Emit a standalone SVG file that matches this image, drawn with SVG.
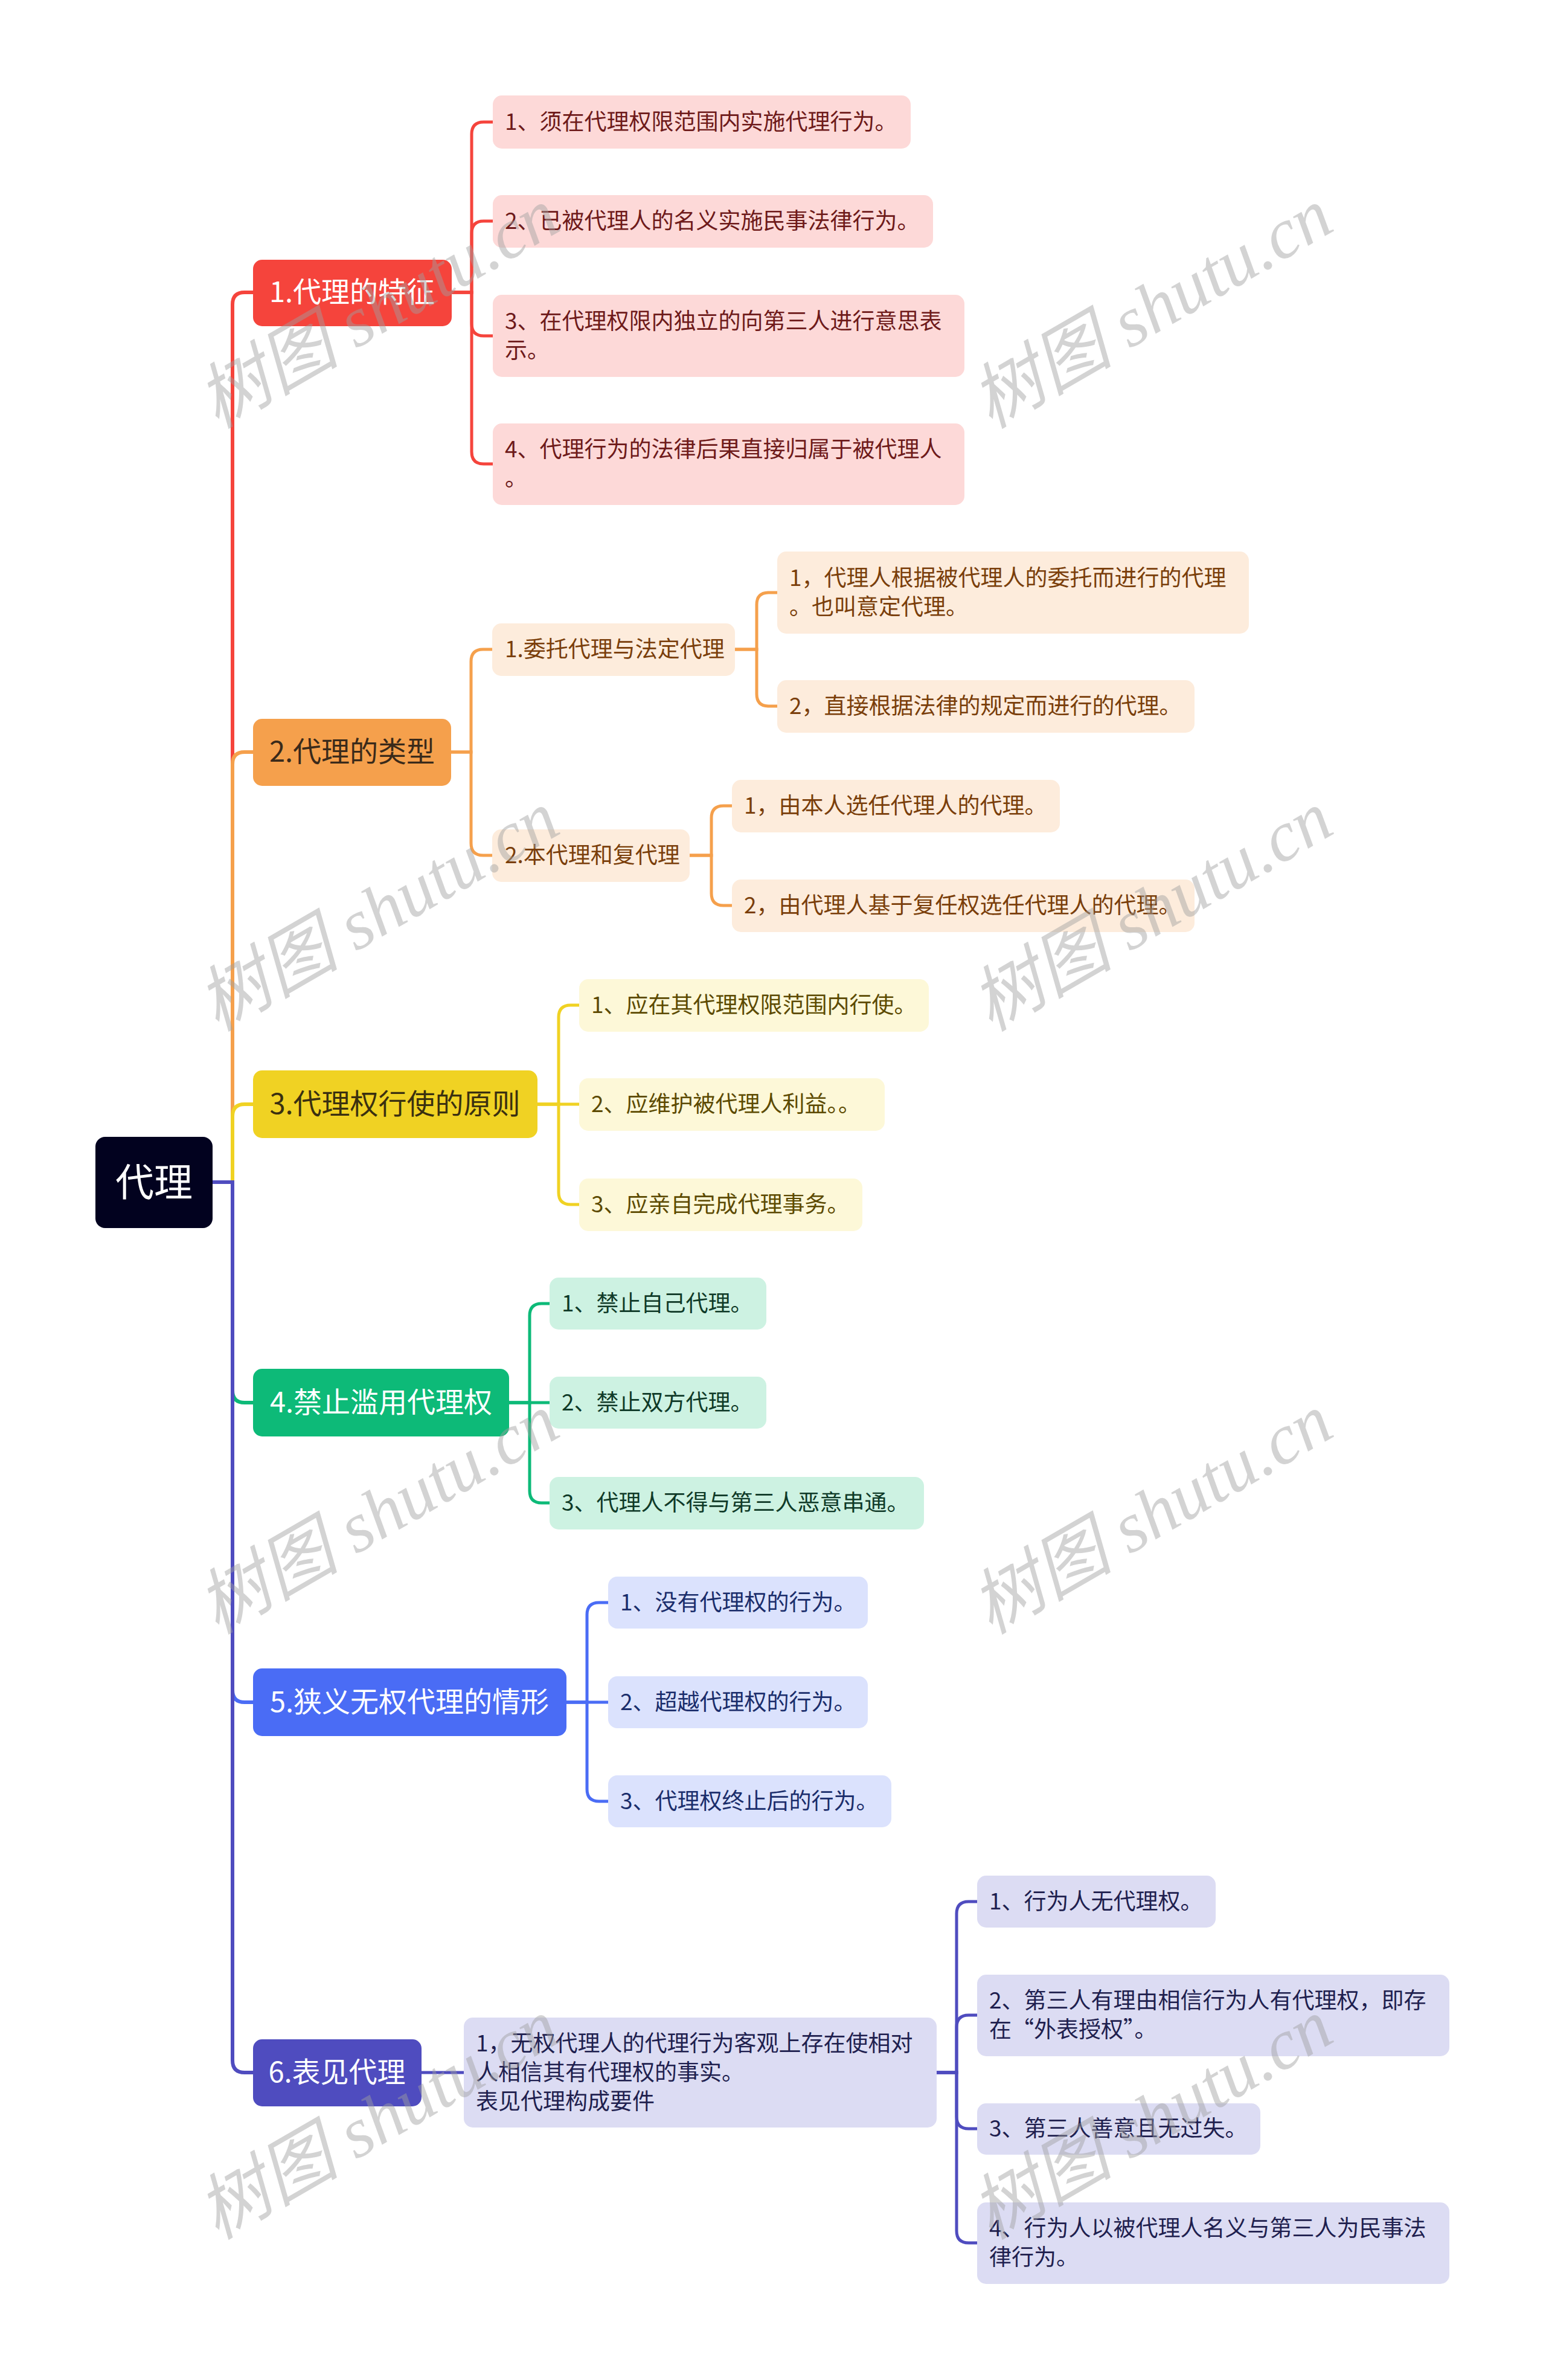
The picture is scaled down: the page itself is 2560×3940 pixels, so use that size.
<svg xmlns="http://www.w3.org/2000/svg" width="2560" height="3940" viewBox="0 0 2560 3940">
<style>
text{font-family:"Noto Sans CJK SC","Noto Sans",sans-serif;}
.c{font-size:37px;}
.b{font-size:47px;text-anchor:middle;}
.r{font-size:64px;text-anchor:middle;fill:#ffffff;}
.ln{fill:none;stroke-width:5;stroke-linecap:round;}
.tr{fill:none;stroke-width:6;}
.wm{font-family:"Liberation Serif","Noto Sans CJK SC",serif;font-style:italic;font-size:118px;fill:#a0a0a0;opacity:0.45;text-anchor:middle;}
</style>
<rect width="2560" height="3940" fill="#ffffff"/>
<g id="connectors">
<path class="tr" stroke="#f5443c" d="M352,1957 H385 V504 Q385,484 405,484 H419"/>
<path class="tr" stroke="#f5a04c" d="M352,1957 H385 V1265 Q385,1245 405,1245 H419"/>
<path class="tr" stroke="#f0d223" d="M352,1957 H385 V1848 Q385,1828 405,1828 H419"/>
<path class="tr" stroke="#0dba78" d="M352,1957 H385 V2302 Q385,2322 405,2322 H419"/>
<path class="tr" stroke="#4a6cf5" d="M352,1957 H385 V2798 Q385,2818 405,2818 H419"/>
<path class="tr" stroke="#4f4cbf" d="M352,1957 H385 V3411 Q385,3431 405,3431 H419"/>
<g stroke="#f5443c">
<path class="ln" d="M748,484 H781 V222 Q781,202 801,202 H816"/>
<path class="ln" d="M748,484 H781 V386 Q781,366 801,366 H816"/>
<path class="ln" d="M748,484 H781 V536 Q781,556 801,556 H816"/>
<path class="ln" d="M748,484 H781 V748 Q781,768 801,768 H816"/>
</g>
<g stroke="#f5a04c">
<path class="ln" d="M747,1245 H780 V1095 Q780,1075 800,1075 H815"/>
<path class="ln" d="M747,1245 H780 V1396 Q780,1416 800,1416 H815"/>
<path class="ln" d="M1217,1075 H1253 V1001 Q1253,981 1273,981 H1287"/>
<path class="ln" d="M1217,1075 H1253 V1149 Q1253,1169 1273,1169 H1287"/>
<path class="ln" d="M1142,1416 H1178 V1354 Q1178,1334 1198,1334 H1212"/>
<path class="ln" d="M1142,1416 H1178 V1479 Q1178,1499 1198,1499 H1212"/>
</g>
<g stroke="#f0d223">
<path class="ln" d="M890,1828 H925 V1684 Q925,1664 945,1664 H959"/>
<path class="ln" d="M890,1828 H959"/>
<path class="ln" d="M890,1828 H925 V1974 Q925,1994 945,1994 H959"/>
</g>
<g stroke="#0dba78">
<path class="ln" d="M843,2322 H877 V2178 Q877,2158 897,2158 H910"/>
<path class="ln" d="M843,2322 H910"/>
<path class="ln" d="M843,2322 H877 V2468 Q877,2488 897,2488 H910"/>
</g>
<g stroke="#4a6cf5">
<path class="ln" d="M938,2818 H972 V2673 Q972,2653 992,2653 H1007"/>
<path class="ln" d="M938,2818 H1007"/>
<path class="ln" d="M938,2818 H972 V2962 Q972,2982 992,2982 H1007"/>
</g>
<g stroke="#4f4cbf">
<path class="ln" d="M698,3431 H768"/>
<path class="ln" d="M1551,3431 H1584 V3168 Q1584,3148 1604,3148 H1618"/>
<path class="ln" d="M1551,3431 H1584 V3356 Q1584,3336 1604,3336 H1618"/>
<path class="ln" d="M1551,3431 H1584 V3504 Q1584,3524 1604,3524 H1618"/>
<path class="ln" d="M1551,3431 H1584 V3693 Q1584,3713 1604,3713 H1618"/>
</g>
</g>

<g id="root">
<rect x="158" y="1882" width="194" height="151" rx="16" fill="#02021f"/>
<text class="r" x="255" y="1980">代理</text>
</g>

<g id="b1">
<rect x="419" y="430" width="329" height="110" rx="15" fill="#f5443c"/>
<text class="b" x="583" y="500" fill="#ffffff">1.代理的特征</text>
</g>
<g id="b1c1"><rect x="816" y="158" width="692" height="88" rx="15" fill="#fdd9d8"/><text class="c" x="836" y="215" fill="#6e1a1a">1、须在代理权限范围内实施代理行为。</text></g>
<g id="b1c2"><rect x="816" y="323" width="729" height="87" rx="15" fill="#fdd9d8"/><text class="c" x="836" y="379" fill="#6e1a1a">2、已被代理人的名义实施民事法律行为。</text></g>
<g id="b1c3"><rect x="816" y="488" width="781" height="136" rx="15" fill="#fdd9d8"/><text class="c" x="836" y="545" fill="#6e1a1a">3、在代理权限内独立的向第三人进行意思表</text><text class="c" x="836" y="593" fill="#6e1a1a">示。</text></g>
<g id="b1c4"><rect x="816" y="701" width="781" height="135" rx="15" fill="#fdd9d8"/><text class="c" x="836" y="757" fill="#6e1a1a">4、代理行为的法律后果直接归属于被代理人</text><text class="c" x="836" y="805" fill="#6e1a1a">。</text></g>

<g id="b2">
<rect x="419" y="1190" width="328" height="111" rx="15" fill="#f5a04c"/>
<text class="b" x="583" y="1261" fill="#3a2a1a">2.代理的类型</text>
</g>
<g id="b2s1"><rect x="815" y="1032" width="402" height="87" rx="15" fill="#fdecdc"/><text class="c" x="836" y="1088" fill="#7a3e0a">1.委托代理与法定代理</text></g>
<g id="b2s2"><rect x="815" y="1373" width="327" height="87" rx="15" fill="#fdecdc"/><text class="c" x="836" y="1429" fill="#7a3e0a">2.本代理和复代理</text></g>
<g id="b2s1c1"><rect x="1287" y="913" width="781" height="136" rx="15" fill="#fdecdc"/><text class="c" x="1307" y="970" fill="#7a3e0a">1，代理人根据被代理人的委托而进行的代理</text><text class="c" x="1307" y="1018" fill="#7a3e0a">。也叫意定代理。</text></g>
<g id="b2s1c2"><rect x="1287" y="1126" width="691" height="87" rx="15" fill="#fdecdc"/><text class="c" x="1307" y="1182" fill="#7a3e0a">2，直接根据法律的规定而进行的代理。</text></g>
<g id="b2s2c1"><rect x="1212" y="1291" width="543" height="87" rx="15" fill="#fdecdc"/><text class="c" x="1232" y="1347" fill="#7a3e0a">1，由本人选任代理人的代理。</text></g>
<g id="b2s2c2"><rect x="1212" y="1456" width="766" height="87" rx="15" fill="#fdecdc"/><text class="c" x="1232" y="1512" fill="#7a3e0a">2，由代理人基于复任权选任代理人的代理。</text></g>

<g id="b3">
<rect x="419" y="1772" width="471" height="112" rx="15" fill="#f0d223"/>
<text class="b" x="654" y="1844" fill="#3a3010">3.代理权行使的原则</text>
</g>
<g id="b3c1"><rect x="959" y="1621" width="579" height="87" rx="15" fill="#fdf8d8"/><text class="c" x="979" y="1677" fill="#5c4a00">1、应在其代理权限范围内行使。</text></g>
<g id="b3c2"><rect x="959" y="1785" width="506" height="87" rx="15" fill="#fdf8d8"/><text class="c" x="979" y="1841" fill="#5c4a00">2、应维护被代理人利益。。</text></g>
<g id="b3c3"><rect x="959" y="1951" width="469" height="87" rx="15" fill="#fdf8d8"/><text class="c" x="979" y="2007" fill="#5c4a00">3、应亲自完成代理事务。</text></g>

<g id="b4">
<rect x="419" y="2266" width="424" height="112" rx="15" fill="#0dba78"/>
<text class="b" x="631" y="2338" fill="#ffffff">4.禁止滥用代理权</text>
</g>
<g id="b4c1"><rect x="910" y="2115" width="359" height="86" rx="15" fill="#cdf2e2"/><text class="c" x="930" y="2171" fill="#0f3a28">1、禁止自己代理。</text></g>
<g id="b4c2"><rect x="910" y="2279" width="359" height="86" rx="15" fill="#cdf2e2"/><text class="c" x="930" y="2335" fill="#0f3a28">2、禁止双方代理。</text></g>
<g id="b4c3"><rect x="910" y="2445" width="620" height="87" rx="15" fill="#cdf2e2"/><text class="c" x="930" y="2501" fill="#0f3a28">3、代理人不得与第三人恶意串通。</text></g>

<g id="b5">
<rect x="419" y="2762" width="519" height="112" rx="15" fill="#4a6cf5"/>
<text class="b" x="678" y="2834" fill="#ffffff">5.狭义无权代理的情形</text>
</g>
<g id="b5c1"><rect x="1007" y="2610" width="430" height="86" rx="15" fill="#dbe2fd"/><text class="c" x="1027" y="2666" fill="#1a2d6b">1、没有代理权的行为。</text></g>
<g id="b5c2"><rect x="1007" y="2775" width="430" height="86" rx="15" fill="#dbe2fd"/><text class="c" x="1027" y="2831" fill="#1a2d6b">2、超越代理权的行为。</text></g>
<g id="b5c3"><rect x="1007" y="2939" width="469" height="86" rx="15" fill="#dbe2fd"/><text class="c" x="1027" y="2995" fill="#1a2d6b">3、代理权终止后的行为。</text></g>

<g id="b6">
<rect x="419" y="3376" width="279" height="111" rx="15" fill="#4f4cbf"/>
<text class="b" x="558" y="3447" fill="#ffffff">6.表见代理</text>
</g>
<g id="b6s1"><rect x="768" y="3340" width="783" height="182" rx="15" fill="#dcdcf3"/><text class="c" x="788" y="3396" fill="#1f1f4f">1，无权代理人的代理行为客观上存在使相对</text><text class="c" x="788" y="3444" fill="#1f1f4f">人相信其有代理权的事实。</text><text class="c" x="788" y="3492" fill="#1f1f4f">表见代理构成要件</text></g>
<g id="b6c1"><rect x="1618" y="3105" width="395" height="86" rx="15" fill="#dcdcf3"/><text class="c" x="1638" y="3161" fill="#1f1f4f">1、行为人无代理权。</text></g>
<g id="b6c2"><rect x="1618" y="3269" width="782" height="135" rx="15" fill="#dcdcf3"/><text class="c" x="1638" y="3325" fill="#1f1f4f">2、第三人有理由相信行为人有代理权，即存</text><text class="c" x="1638" y="3373" fill="#1f1f4f">在“外表授权”。</text></g>
<g id="b6c3"><rect x="1618" y="3482" width="469" height="85" rx="15" fill="#dcdcf3"/><text class="c" x="1638" y="3537" fill="#1f1f4f">3、第三人善意且无过失。</text></g>
<g id="b6c4"><rect x="1618" y="3646" width="782" height="135" rx="15" fill="#dcdcf3"/><text class="c" x="1638" y="3702" fill="#1f1f4f">4、行为人以被代理人名义与第三人为民事法</text><text class="c" x="1638" y="3750" fill="#1f1f4f">律行为。</text></g>

<g id="watermark">
<text class="wm" transform="translate(646,545) rotate(-30)">树图 shutu.cn</text>
<text class="wm" transform="translate(1927,545) rotate(-30)">树图 shutu.cn</text>
<text class="wm" transform="translate(646,1543) rotate(-30)">树图 shutu.cn</text>
<text class="wm" transform="translate(1927,1543) rotate(-30)">树图 shutu.cn</text>
<text class="wm" transform="translate(646,2541) rotate(-30)">树图 shutu.cn</text>
<text class="wm" transform="translate(1927,2541) rotate(-30)">树图 shutu.cn</text>
<text class="wm" transform="translate(646,3543) rotate(-30)">树图 shutu.cn</text>
<text class="wm" transform="translate(1927,3543) rotate(-30)">树图 shutu.cn</text>
</g>
</svg>
